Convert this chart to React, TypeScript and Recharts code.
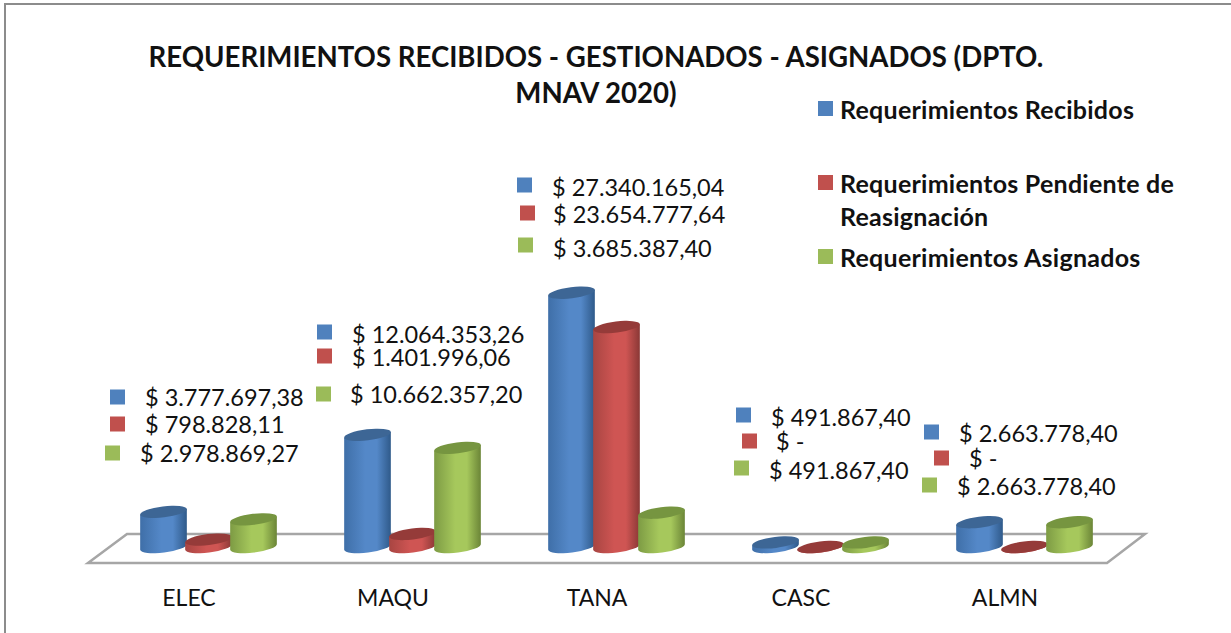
import { Bar, BarChart, LabelList, XAxis, YAxis } from "recharts";

const categories = ["ELEC", "MAQU", "TANA", "CASC", "ALMN"];
const recibidos = [3777697.38, 12064353.26, 27340165.04, 491867.4, 2663778.4];
const pendientes = [798828.11, 1401996.06, 23654777.64, 0, 0];
const asignados = [2978869.27, 10662357.2, 3685387.4, 491867.4, 2663778.4];

const titleLines = ["REQUERIMIENTOS RECIBIDOS - GESTIONADOS - ASIGNADOS (DPTO.", "MNAV 2020)"];

const data = categories.map((name, i) => ({
  name,
  recibidos: recibidos[i],
  pendientes: pendientes[i],
  asignados: asignados[i],
}));

const FONT = "Lato, Carlito, sans-serif";
const TILT = -7;

// colours per series
const blue = { key: "blue", square: "#4f81bd", top: "#3d6695", left: "#3f6fa8", mid: "#5488c8", right: "#2f5a8a" };
const red = { key: "red", square: "#c0504d", top: "#953b39", left: "#a84542", mid: "#cf5553", right: "#8a3836" };
const green = { key: "green", square: "#9bbb59", top: "#769540", left: "#7d9b44", mid: "#a6c85c", right: "#6b8537" };

// data labels were dragged by hand in the original, so each one has its own spot
// [square x, square middle y, text x, text middle y]
const labelSpots = {
  blue: [[110, 397, 145, 397], [317, 332, 352, 334], [517, 185, 552, 187], [736, 415, 771, 417], [924, 432, 959, 433]],
  red: [[110, 424, 145, 424], [317, 356, 352, 357], [520, 213, 553, 214], [742, 441, 776, 441], [934, 458, 969, 458]],
  green: [[105, 453, 140, 453], [316, 394, 350, 394], [518, 245, 553, 248], [734, 468, 769, 470], [922, 485, 957, 486]],
};

const formatMoney = (v: number) => {
  if (!v) return "$ -";
  const [whole, dec] = v.toFixed(2).split(".");
  return "$ " + whole.replace(/\B(?=(\d{3})+(?!\d))/g, ".") + "," + dec;
};

const Cylinder = (props: any, color: typeof blue) => {
  const { x, y, width, height } = props;
  const rx = width / 2;
  const ry = 5.5;
  const cx = x + rx;
  const dx = rx * Math.cos((TILT * Math.PI) / 180);
  const dy = -rx * Math.sin((TILT * Math.PI) / 180);
  const bottom = y + height;
  const body = `M${cx - dx} ${y + dy} L${cx - dx} ${bottom + dy} A${rx} ${ry} ${TILT} 0 0 ${cx + dx} ${bottom - dy} L${cx + dx} ${y - dy} Z`;
  return (
    <g>
      <path d={body} fill={`url(#cyl-${color.key})`} />
      <ellipse cx={cx} cy={y} rx={rx} ry={ry} fill={color.top} transform={`rotate(${TILT} ${cx} ${y})`} />
    </g>
  );
};

const moneyLabel = (color: typeof blue) => (props: any) => {
  const spot = labelSpots[color.key as keyof typeof labelSpots][props.index];
  return (
    <g>
      <rect x={spot[0]} y={spot[1] - 7.5} width={15} height={15} fill={color.square} />
      <text x={spot[2]} y={spot[3]} dominantBaseline="central" fontFamily={FONT} fontSize={23.5} fill="#111">
        {formatMoney(Number(props.value))}
      </text>
    </g>
  );
};

const CategoryTick = (props: any) => (
  <text x={props.x - 19} y={597} textAnchor="middle" dominantBaseline="central" fontFamily={FONT} fontSize={23} fill="#111">
    {props.payload.value}
  </text>
);

const legendRows = [
  { color: blue.square, lines: [["Requerimientos Recibidos", 109]] },
  { color: red.square, lines: [["Requerimientos Pendiente de", 183], ["Reasignación", 216]] },
  { color: green.square, lines: [["Requerimientos Asignados", 257]] },
];

const Backdrop = () => (
  <svg width={1231} height={633} style={{ position: "absolute", left: 0, top: 0 }}>
    <path d="M5 633 L5 4 L1231 4" fill="none" stroke="#8c8c8c" strokeWidth={2} />
    <path d="M88 563 L1107 563 L1145 534 L127 534 Z" fill="#fff" stroke="#a6a6a6" strokeWidth={2.5} />
    {titleLines.map((line, i) => (
      <text key={line} x={596} y={56 + i * 36} textAnchor="middle" dominantBaseline="central" fontFamily={FONT} fontWeight={700} fontSize={27.6} fill="#111">
        {line}
      </text>
    ))}
    {legendRows.map((row) => (
      <g key={row.color}>
        <rect x={818} y={Number(row.lines[0][1]) - 8} width={15} height={15} fill={row.color} />
        {row.lines.map(([label, y]) => (
          <text key={label} x={840} y={y} dominantBaseline="central" fontFamily={FONT} fontWeight={700} fontSize={25} letterSpacing={0.25} fill="#111">
            {label}
          </text>
        ))}
      </g>
    ))}
  </svg>
);

export default function App() {
  return (
    <div style={{ position: "absolute", left: 0, top: 0, width: 1231, height: 633, overflow: "hidden" }}>
      <Backdrop />
      <div style={{ position: "absolute", left: 0, top: 0 }}>
        <BarChart
          width={1231}
          height={633}
          data={data}
          barSize={47}
          barGap={-2}
          margin={{ top: 268, right: 105, bottom: 0, left: 106 }}
        >
          <defs>
            {[blue, red, green].map((c) => (
              <linearGradient key={c.key} id={`cyl-${c.key}`} x1="0" y1="0" x2="1" y2="0">
                <stop offset="0%" stopColor={c.left} />
                <stop offset="45%" stopColor={c.mid} />
                <stop offset="70%" stopColor={c.mid} />
                <stop offset="100%" stopColor={c.right} />
              </linearGradient>
            ))}
          </defs>
          <XAxis dataKey="name" height={86} axisLine={false} tickLine={false} tick={CategoryTick} interval={0} />
          <YAxis hide domain={[0, 30000000]} />
          <Bar dataKey="recibidos" isAnimationActive={false} shape={(p: any) => Cylinder(p, blue)}>
            <LabelList dataKey="recibidos" content={moneyLabel(blue)} />
          </Bar>
          <Bar dataKey="pendientes" isAnimationActive={false} shape={(p: any) => Cylinder(p, red)}>
            <LabelList dataKey="pendientes" content={moneyLabel(red)} />
          </Bar>
          <Bar dataKey="asignados" isAnimationActive={false} shape={(p: any) => Cylinder(p, green)}>
            <LabelList dataKey="asignados" content={moneyLabel(green)} />
          </Bar>
        </BarChart>
      </div>
    </div>
  );
}
